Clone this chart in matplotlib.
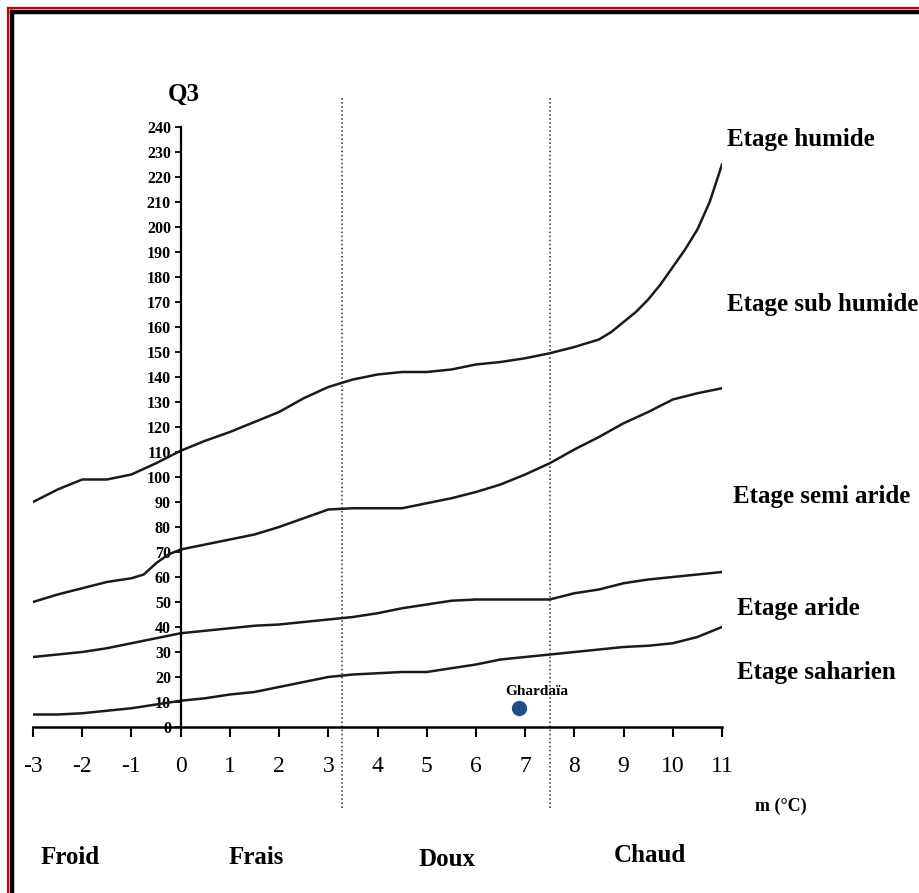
import matplotlib.pyplot as plt
from matplotlib.lines import Line2D

# Emberger climagram, Q3 vs m (°C)
m_vals = [-3, -2.5, -2, -1.5, -1, -0.5, 0, 0.5, 1, 1.5, 2, 2.5, 3, 3.5, 4, 4.5,
          5, 5.5, 6, 6.5, 7, 7.5, 8, 8.5, 9, 9.5, 10, 10.5, 11]

# humide upper end bends hard, so it gets a few extra points
m_humide = [-3, -2.5, -2, -1.5, -1, -0.5, 0, 0.5, 1, 1.5, 2, 2.5, 3, 3.5, 4, 4.5,
            5, 5.5, 6, 6.5, 7, 7.5, 8, 8.5, 8.75, 9, 9.25, 9.5, 9.75, 10, 10.25,
            10.5, 10.75, 11]
humide = [90, 95, 99, 99, 101, 105.5, 110.5, 114.5, 118, 122, 126, 131.5, 136, 139,
          141, 142, 142, 143, 145, 146, 147.5, 149.5, 152, 155, 158, 162, 166, 171,
          177, 184, 191, 199, 210, 225]

m_sub = [-3, -2.5, -2, -1.5, -1, -0.75, -0.5, -0.25, 0, 0.5, 1, 1.5, 2, 2.5, 3, 3.5,
         4, 4.5, 5, 5.5, 6, 6.5, 7, 7.5, 8, 8.5, 9, 9.5, 10, 10.5, 11]
sub_humide = [50, 53, 55.5, 58, 59.5, 61, 65.5, 69, 71, 73, 75, 77, 80, 83.5, 87,
              87.5, 87.5, 87.5, 89.5, 91.5, 94, 97, 101, 105.5, 111, 116, 121.5, 126,
              131, 133.5, 135.5]
aride = [28, 29, 30, 31.5, 33.5, 35.5, 37.5, 38.5, 39.5, 40.5, 41, 42, 43, 44, 45.5,
         47.5, 49, 50.5, 51, 51, 51, 51, 53.5, 55, 57.5, 59, 60, 61, 62]
saharien = [5, 5, 5.5, 6.5, 7.5, 9, 10.5, 11.5, 13, 14, 16, 18, 20, 21, 21.5, 22, 22,
            23.5, 25, 27, 28, 29, 30, 31, 32, 32.5, 33.5, 36, 40]

etages = ["Etage humide", "Etage sub humide", "Etage semi aride", "Etage aride", "Etage saharien"]
etage_pos = [(11.1, 234.8), (11.1, 168.8), (11.23, 92), (11.3, 47.2), (11.3, 22)]

zones = ["Froid", "Frais", "Doux", "Chaud"]
zone_x = [70, 256, 447, 650]   # pixel centres
zone_y = [858, 858, 860, 855]

limits = [3.28, 7.51]
station = "Ghardaïa"
station_m, station_q3 = 6.88, 7.5

x_ticks = list(range(-3, 12))
y_ticks = list(range(0, 250, 10))

W, H = 919, 893
fig = plt.figure(figsize=(W / 100, H / 100), dpi=100)
serif = "Liberation Serif"

ax = fig.add_axes([33 / W, (H - 727) / H, 689 / W, 600 / H])
ax.set_xlim(-3, 11)
ax.set_ylim(0, 240)

for s in ["top", "right"]:
    ax.spines[s].set_visible(False)
ax.spines["left"].set_position(("data", 0))
ax.spines["left"].set_linewidth(1.6)
ax.spines["bottom"].set_linewidth(1.8)

ax.set_xticks(x_ticks)
ax.set_xticklabels([str(v) for v in x_ticks], fontfamily=serif, fontsize=17)
ax.set_yticks(y_ticks)
ax.set_yticklabels([str(v) for v in y_ticks], fontfamily=serif, fontsize=11.5, fontweight="bold")
ax.tick_params(axis="x", direction="out", length=7, width=1.5, pad=14)
ax.tick_params(axis="y", direction="out", length=4, width=1.3, pad=3)

ax.plot(m_humide, humide, color="#1a1a1a", lw=1.8)
ax.plot(m_sub, sub_humide, color="#1a1a1a", lw=1.8)
for curve in [aride, saharien]:
    ax.plot(m_vals, curve, color="#1a1a1a", lw=1.8)

for xl in limits:
    ax.plot([xl, xl], [251.6, -32.4], ls=":", color="#333333", lw=1.1, clip_on=False)

ax.plot(station_m, station_q3, "o", color="#1f4e8f", ms=10)
ax.text(7.24, 14.3, station, ha="center", va="center", fontfamily=serif,
        fontweight="bold", fontsize=11)

for name, (tx, ty) in zip(etages, etage_pos):
    ax.text(tx, ty, name, ha="left", va="center", fontfamily=serif, fontweight="bold",
            fontsize=18, clip_on=False)

ax.text(0.07, 253, "Q3", ha="center", va="center", fontfamily=serif, fontweight="bold",
        fontsize=18, clip_on=False)

fig.text(781 / W, 1 - 806 / H, "m (°C)", ha="center", va="center", fontfamily=serif,
         fontweight="bold", fontsize=13)
for name, zx, zy in zip(zones, zone_x, zone_y):
    fig.text(zx / W, 1 - zy / H, name, ha="center", va="center", fontfamily=serif,
             fontweight="bold", fontsize=18)

# frame around the picture (top and left only, rest is cropped)
fig.add_artist(Line2D([8 / W, 1], [1 - 8 / H, 1 - 8 / H], color="#cc0000", lw=1.6,
                      transform=fig.transFigure))
fig.add_artist(Line2D([8 / W, 8 / W], [0, 1 - 8 / H], color="#cc0000", lw=1.6,
                      transform=fig.transFigure))
fig.add_artist(Line2D([11.5 / W, 1], [1 - 12 / H, 1 - 12 / H], color="black", lw=3.2,
                      transform=fig.transFigure))
fig.add_artist(Line2D([11.5 / W, 11.5 / W], [0, 1 - 12 / H], color="black", lw=3.2,
                      transform=fig.transFigure))

fig.savefig("out.png", dpi=100)
